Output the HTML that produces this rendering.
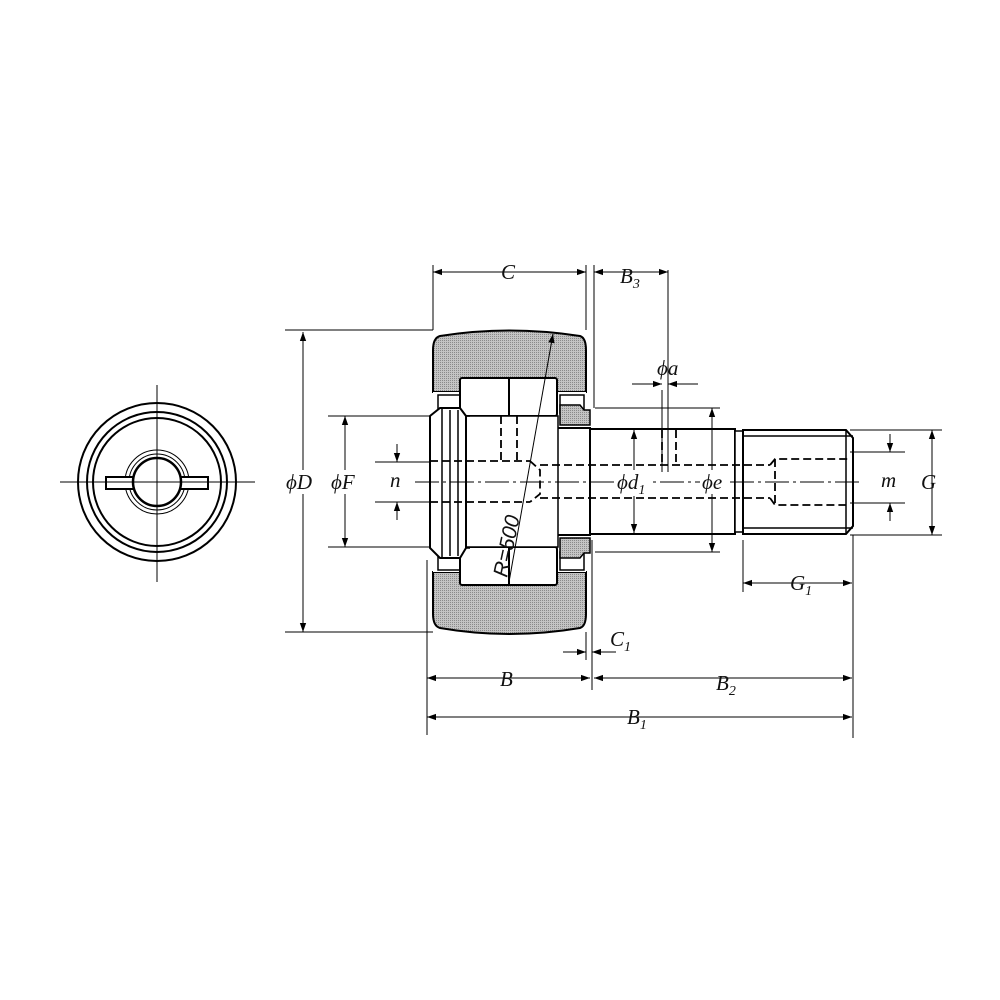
<!DOCTYPE html>
<html><head><meta charset="utf-8"><style>
html,body{margin:0;padding:0;background:#fff}
svg{display:block}
text{font-family:"Liberation Serif",serif;font-style:italic;font-size:21px;fill:#111}
</style></head><body>
<svg width="1000" height="1000" viewBox="0 0 1000 1000" xmlns="http://www.w3.org/2000/svg">
<defs>
<pattern id="dots" width="2" height="2" patternUnits="userSpaceOnUse"><rect width="2" height="2" fill="#c4c4c4"/><rect width="1" height="1" fill="#8a8a8a"/></pattern>
<marker id="a" viewBox="0 0 10 10" refX="10" refY="5" markerWidth="9" markerHeight="9" orient="auto-start-reverse" markerUnits="userSpaceOnUse"><path d="M0,1.5 L10,5 L0,8.5 Z" fill="#000"/></marker>
</defs>
<!-- left view -->
<g fill="none" stroke="#000">
<circle cx="157" cy="482" r="79" stroke-width="2"/>
<circle cx="157" cy="482" r="70" stroke-width="2"/>
<circle cx="157" cy="482" r="64" stroke-width="2"/>
<circle cx="157" cy="482" r="32" stroke-width="1"/>
<circle cx="157" cy="482" r="28" stroke-width="1"/>
<rect x="106" y="477" width="102" height="12" stroke-width="2" fill="#fff"/>
<circle cx="157" cy="482" r="24" stroke-width="2.5" fill="#fff"/>
<line x1="157" y1="385" x2="157" y2="582" stroke-width="1"/>
<line x1="60" y1="482" x2="255" y2="482" stroke-width="1"/>
</g>
<!-- main body -->
<g stroke="#000" stroke-width="2">
<path d="M440,336 Q509,325 580,336 Q586,338 586,350 L586,392 L433,392 L433,350 Q433,338 440,336 Z" fill="url(#dots)"/>
<path d="M440,628 Q509,640 580,628 Q586,626 586,614 L586,572 L433,572 L433,614 Q433,626 440,628 Z" fill="url(#dots)"/>
<rect x="433" y="392" width="153" height="180" fill="#fff" stroke="none"/>
<rect x="438" y="395" width="22" height="18" fill="none" stroke-width="1.5"/>
<rect x="438" y="552" width="22" height="18" fill="none" stroke-width="1.5"/>
<rect x="560" y="395" width="24" height="18" fill="none" stroke-width="1.5"/>
<rect x="560" y="552" width="24" height="18" fill="none" stroke-width="1.5"/>
<rect x="460" y="378" width="97" height="38" rx="2" fill="#fff"/>
<rect x="460" y="547" width="97" height="38" rx="2" fill="#fff"/>
<line x1="509" y1="378" x2="509" y2="416"/>
<line x1="509" y1="547" x2="509" y2="585"/>
<rect x="462" y="416" width="96" height="131" fill="#fff" stroke-width="1.5"/>
<path d="M558,428 L590,428 L590,535 L558,535" fill="none"/>
<path d="M560,405 L580,405 L584,410 L590,410 L590,425 L560,425 Z" fill="url(#dots)" stroke-width="1.5"/>
<path d="M560,558 L580,558 L584,553 L590,553 L590,538 L560,538 Z" fill="url(#dots)" stroke-width="1.5"/>
<path d="M440,408 L460,408 L466,416 L466,548 L460,558 L440,558 L430,548 L430,416 Z" fill="#fff"/>
<line x1="442" y1="408" x2="442" y2="558" stroke-width="1.5"/>
<line x1="450" y1="410" x2="450" y2="556" stroke-width="1.5"/>
<line x1="458" y1="410" x2="458" y2="556" stroke-width="1.5"/>
<line x1="466" y1="416" x2="470" y2="416" stroke-width="1.5"/>
<line x1="466" y1="548" x2="470" y2="548" stroke-width="1.5"/>
<rect x="590" y="429" width="145" height="105" fill="#fff"/>
<rect x="735" y="431" width="8" height="101" fill="#fff" stroke-width="1.5"/>
<path d="M743,430 L846,430 L853,438 L853,526 L846,534 L743,534 Z" fill="#fff"/>
<line x1="743" y1="436" x2="853" y2="436" stroke-width="1.5"/>
<line x1="743" y1="528" x2="853" y2="528" stroke-width="1.5"/>
<line x1="846" y1="430" x2="846" y2="534" stroke-width="1.5"/>
</g>
<g stroke="#000" stroke-width="1.8" stroke-dasharray="8,4" fill="none">
<line x1="430" y1="461" x2="530" y2="461"/>
<line x1="430" y1="502" x2="530" y2="502"/>
<path d="M530,461 L540,470 L540,494 L530,502"/>
<line x1="540" y1="465" x2="770" y2="465"/>
<line x1="540" y1="498" x2="770" y2="498"/>
<line x1="501" y1="416" x2="501" y2="460"/>
<line x1="517" y1="416" x2="517" y2="460"/>
<line x1="662" y1="430" x2="662" y2="465"/>
<line x1="676" y1="430" x2="676" y2="465"/>
<path d="M770,465 L775,459 L850,459"/>
<path d="M770,498 L775,505 L850,505"/>
<line x1="775" y1="459" x2="775" y2="505"/>
</g>
<line x1="415" y1="482" x2="862" y2="482" stroke="#000" stroke-width="1" stroke-dasharray="24,4,3,4"/>
<g stroke="#000" stroke-width="1" fill="none">
<line x1="433" y1="265" x2="433" y2="330"/>
<line x1="586" y1="265" x2="586" y2="330"/>
<line x1="594" y1="265" x2="594" y2="408"/>
<line x1="668" y1="270" x2="668" y2="472"/>
<line x1="662" y1="390" x2="662" y2="472"/>
<line x1="285" y1="330" x2="433" y2="330"/>
<line x1="285" y1="632" x2="433" y2="632"/>
<line x1="328" y1="416" x2="430" y2="416"/>
<line x1="328" y1="547" x2="430" y2="547"/>
<line x1="375" y1="462" x2="430" y2="462"/>
<line x1="375" y1="502" x2="430" y2="502"/>
<line x1="595" y1="408" x2="720" y2="408"/>
<line x1="595" y1="552" x2="720" y2="552"/>
<line x1="850" y1="430" x2="942" y2="430"/>
<line x1="850" y1="535" x2="942" y2="535"/>
<line x1="850" y1="452" x2="905" y2="452"/>
<line x1="850" y1="503" x2="905" y2="503"/>
<line x1="427" y1="560" x2="427" y2="735"/>
<line x1="853" y1="535" x2="853" y2="738"/>
<line x1="586" y1="632" x2="586" y2="660"/>
<line x1="592" y1="540" x2="592" y2="690"/>
<line x1="743" y1="540" x2="743" y2="592"/>
</g>
<g stroke="#000" stroke-width="1" marker-start="url(#a)" marker-end="url(#a)">
<line x1="433" y1="272" x2="586" y2="272"/>
<line x1="594" y1="272" x2="668" y2="272"/>
<line x1="303" y1="332" x2="303" y2="632"/>
<line x1="345" y1="416" x2="345" y2="547"/>
<line x1="634" y1="430" x2="634" y2="533"/>
<line x1="712" y1="408" x2="712" y2="552"/>
<line x1="932" y1="430" x2="932" y2="535"/>
<line x1="743" y1="583" x2="852" y2="583"/>
<line x1="427" y1="678" x2="590" y2="678"/>
<line x1="594" y1="678" x2="852" y2="678"/>
<line x1="427" y1="717" x2="852" y2="717"/>
</g>
<g stroke="#000" stroke-width="1" marker-end="url(#a)">
<line x1="632" y1="384" x2="662" y2="384"/>
<line x1="698" y1="384" x2="668" y2="384"/>
<line x1="397" y1="444" x2="397" y2="462"/>
<line x1="397" y1="520" x2="397" y2="502"/>
<line x1="890" y1="434" x2="890" y2="452"/>
<line x1="890" y1="521" x2="890" y2="503"/>
<line x1="563" y1="652" x2="586" y2="652"/>
<line x1="616" y1="652" x2="592" y2="652"/>
<line x1="509" y1="582" x2="553" y2="334"/>
</g>
<g>
<rect x="285" y="470" width="36" height="24" fill="#fff"/>
<rect x="328" y="470" width="34" height="24" fill="#fff"/>
<rect x="387" y="470" width="20" height="24" fill="#fff"/>
<rect x="615" y="470" width="38" height="26" fill="#fff"/>
<rect x="700" y="470" width="26" height="24" fill="#fff"/>
<rect x="880" y="470" width="22" height="24" fill="#fff"/>
<text x="286" y="489">ϕD</text>
<text x="331" y="489">ϕF</text>
<text x="390" y="487">n</text>
<text x="617" y="489">ϕd<tspan font-size="14" dy="5">1</tspan></text>
<text x="702" y="489">ϕe</text>
<text x="881" y="487">m</text>
<text x="921" y="489">G</text>
<text x="501" y="279">C</text>
<text x="620" y="283">B<tspan font-size="14" dy="5">3</tspan></text>
<text x="657" y="375">ϕa</text>
<text x="790" y="590">G<tspan font-size="14" dy="5">1</tspan></text>
<text x="610" y="646">C<tspan font-size="14" dy="5">1</tspan></text>
<text x="500" y="686">B</text>
<text x="716" y="690">B<tspan font-size="14" dy="5">2</tspan></text>
<text x="627" y="724">B<tspan font-size="14" dy="5">1</tspan></text>
<text x="0" y="0" transform="translate(507,578) rotate(-78)" font-size="25" style="font-family:'Liberation Sans',sans-serif">R=500</text>
</g>
</svg>
</body></html>
